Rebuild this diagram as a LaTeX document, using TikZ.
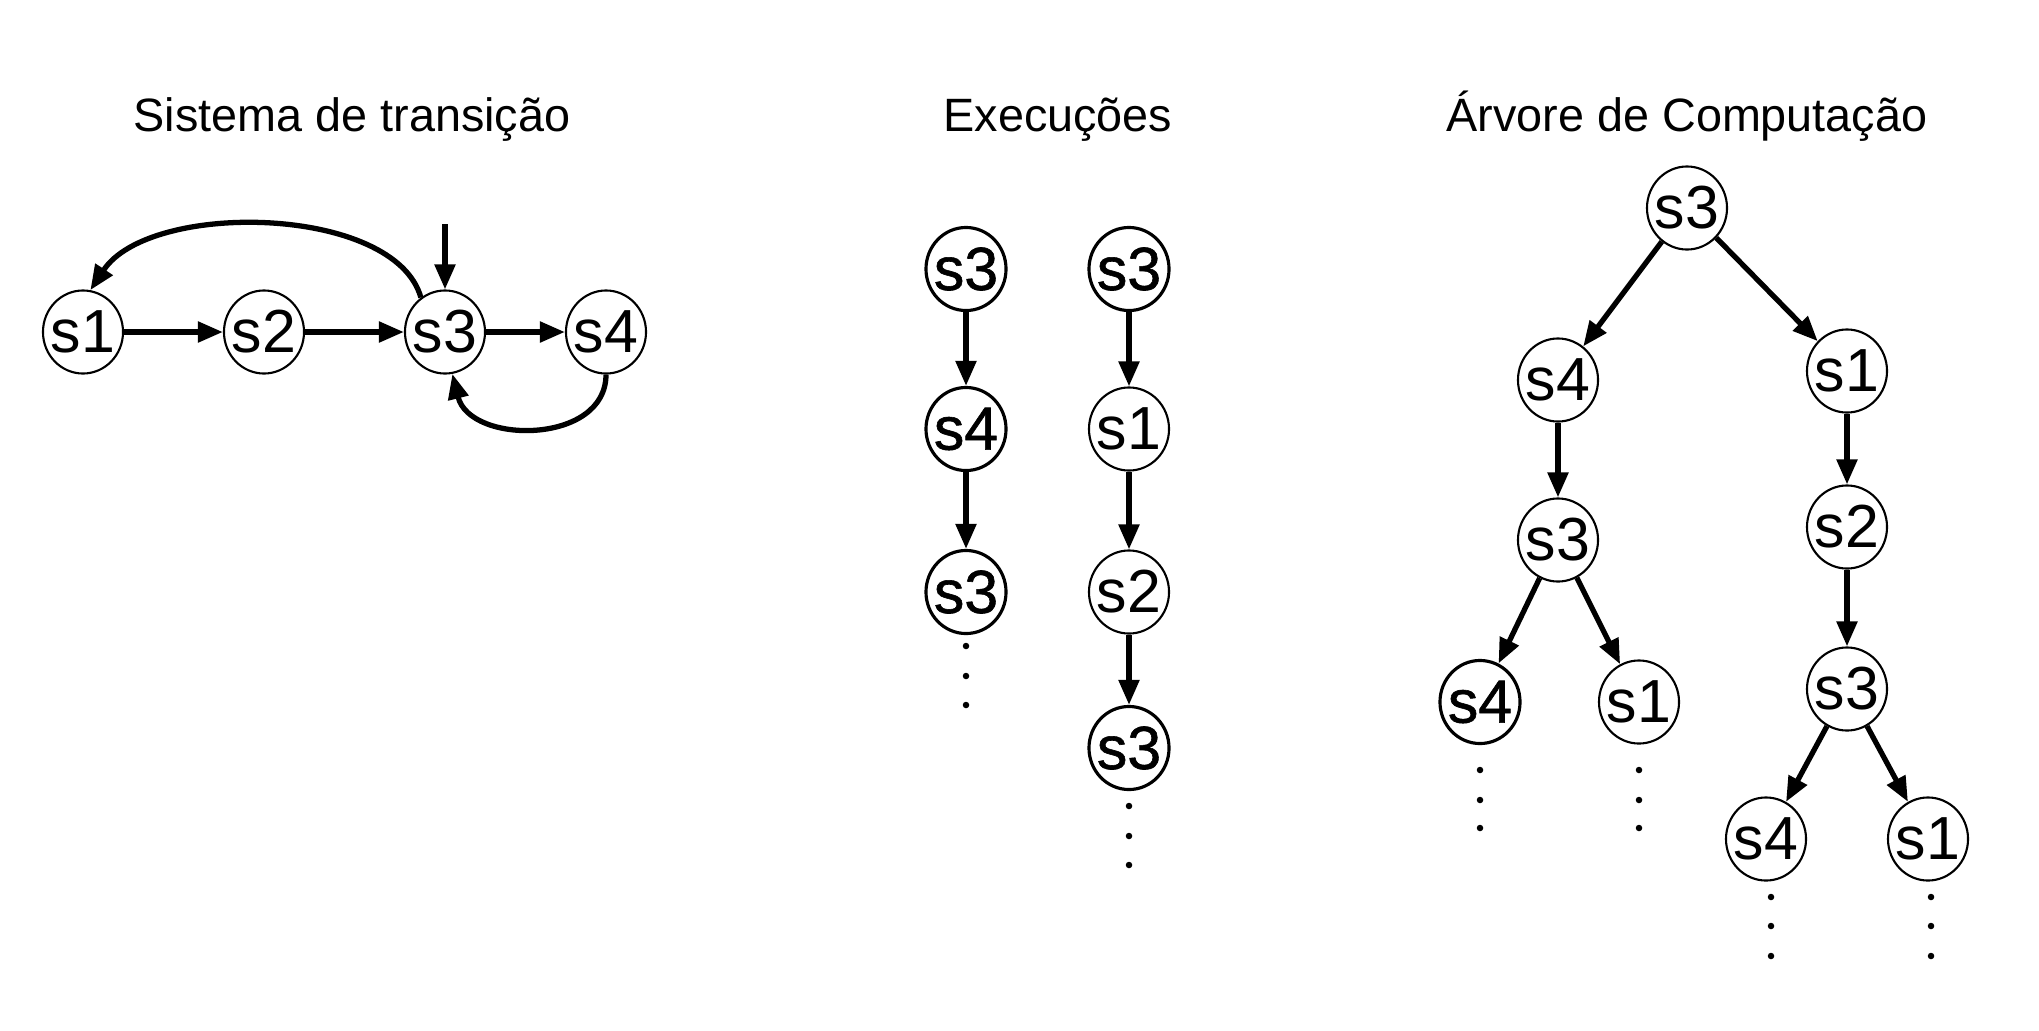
\documentclass[tikz,border=0pt]{standalone}
\usepackage{fontspec}
\setmainfont{Liberation Sans}
\newfontface\heavyfont[FakeBold=1]{Liberation Sans}
\usetikzlibrary{arrows.meta,shapes.geometric}
\newcommand\nodetxt[1]{\makebox[0pt]{#1}}
\tikzset{
  st/.style={draw, ellipse, inner sep=0pt, minimum width=0.80cm, minimum height=0.83cm,
    line width=0.6pt, fill=white, font=\fontsize{17.3}{17.3}\selectfont},
  sth/.style={st, line width=0.9pt, font=\fontsize{17.3}{17.3}\heavyfont},
  arr/.style={line width=1.5pt, -{Triangle[length=0.25cm, width=0.2cm]}},
  ttl/.style={anchor=base, font=\fontsize{13.3}{13.3}\selectfont, inner sep=0pt},
  dot/.style={circle, fill=black, inner sep=0pt, minimum size=0.065cm}
}
\begin{document}
\begin{tikzpicture}[x=0.01cm, y=-0.01cm]
\useasboundingbox (0,0) rectangle (2039,1030);
% titles
\node[ttl] (t1) at (352,131) {Sistema de transição};
\node[ttl] (t2) at (1058,131) {Execuções};
\node[ttl] (t3) at (1687,131) {Árvore de Computação};
% transition system
\node[st] (a1) at (83,332) {\nodetxt{s1}};
\node[st] (a2) at (264,332) {\nodetxt{s2}};
\node[st] (a3) at (445,332) {\nodetxt{s3}};
\node[st] (a4) at (606,332) {\nodetxt{s4}};
\coordinate (init) at (445,224);
\draw[arr] (a1) -- (a2);
\draw[arr] (a2) -- (a3);
\draw[arr] (a3) -- (a4);
\draw[arr] (init) -- (a3);
\draw[arr] (a3.125) .. controls (395,205) and (150,200) .. (a1.80);
\draw[arr] (a4.south) .. controls (606,445) and (470,445) .. (a3.-80);
% executions
\node[sth] (e11) at (966,269) {\nodetxt{s3}};
\node[sth] (e12) at (966,429) {\nodetxt{s4}};
\node[sth] (e13) at (966,592) {\nodetxt{s3}};
\draw[arr] (e11) -- (e12);
\draw[arr] (e12) -- (e13);
\node[dot] (d11) at (966,646) {};
\node[dot] (d12) at (966,676) {};
\node[dot] (d13) at (966,705) {};
\node[sth] (e21) at (1129,269) {\nodetxt{s3}};
\node[st] (e22) at (1129,429) {\nodetxt{s1}};
\node[st] (e23) at (1129,592) {\nodetxt{s2}};
\node[sth] (e24) at (1129,748) {\nodetxt{s3}};
\draw[arr] (e21) -- (e22);
\draw[arr] (e22) -- (e23);
\draw[arr] (e23) -- (e24);
\node[dot] (d21) at (1129,806) {};
\node[dot] (d22) at (1129,836) {};
\node[dot] (d23) at (1129,865) {};
% computation tree
\node[st] (r) at (1687,208) {\nodetxt{s3}};
\node[st] (l1) at (1558,380) {\nodetxt{s4}};
\node[st] (r1) at (1847,371) {\nodetxt{s1}};
\node[st] (l2) at (1558,540) {\nodetxt{s3}};
\node[st] (r2) at (1847,527) {\nodetxt{s2}};
\node[sth] (l3a) at (1480,702) {\nodetxt{s4}};
\node[st] (l3b) at (1639,702) {\nodetxt{s1}};
\node[st] (r3) at (1847,689) {\nodetxt{s3}};
\node[st] (r4a) at (1766,839) {\nodetxt{s4}};
\node[st] (r4b) at (1928,839) {\nodetxt{s1}};
\draw[arr] (r) -- (l1);
\draw[arr] (r) -- (r1);
\draw[arr] (l1) -- (l2);
\draw[arr] (r1) -- (r2);
\draw[arr] (l2) -- (l3a);
\draw[arr] (l2) -- (l3b);
\draw[arr] (r2) -- (r3);
\draw[arr] (r3) -- (r4a);
\draw[arr] (r3) -- (r4b);
\node[dot] (p1) at (1480,770) {};
\node[dot] (p2) at (1480,800) {};
\node[dot] (p3) at (1480,828) {};
\node[dot] (q1) at (1639,770) {};
\node[dot] (q2) at (1639,800) {};
\node[dot] (q3) at (1639,828) {};
\node[dot] (u1) at (1771,897) {};
\node[dot] (u2) at (1771,926) {};
\node[dot] (u3) at (1771,956) {};
\node[dot] (v1) at (1931,897) {};
\node[dot] (v2) at (1931,926) {};
\node[dot] (v3) at (1931,956) {};
\end{tikzpicture}
\end{document}
